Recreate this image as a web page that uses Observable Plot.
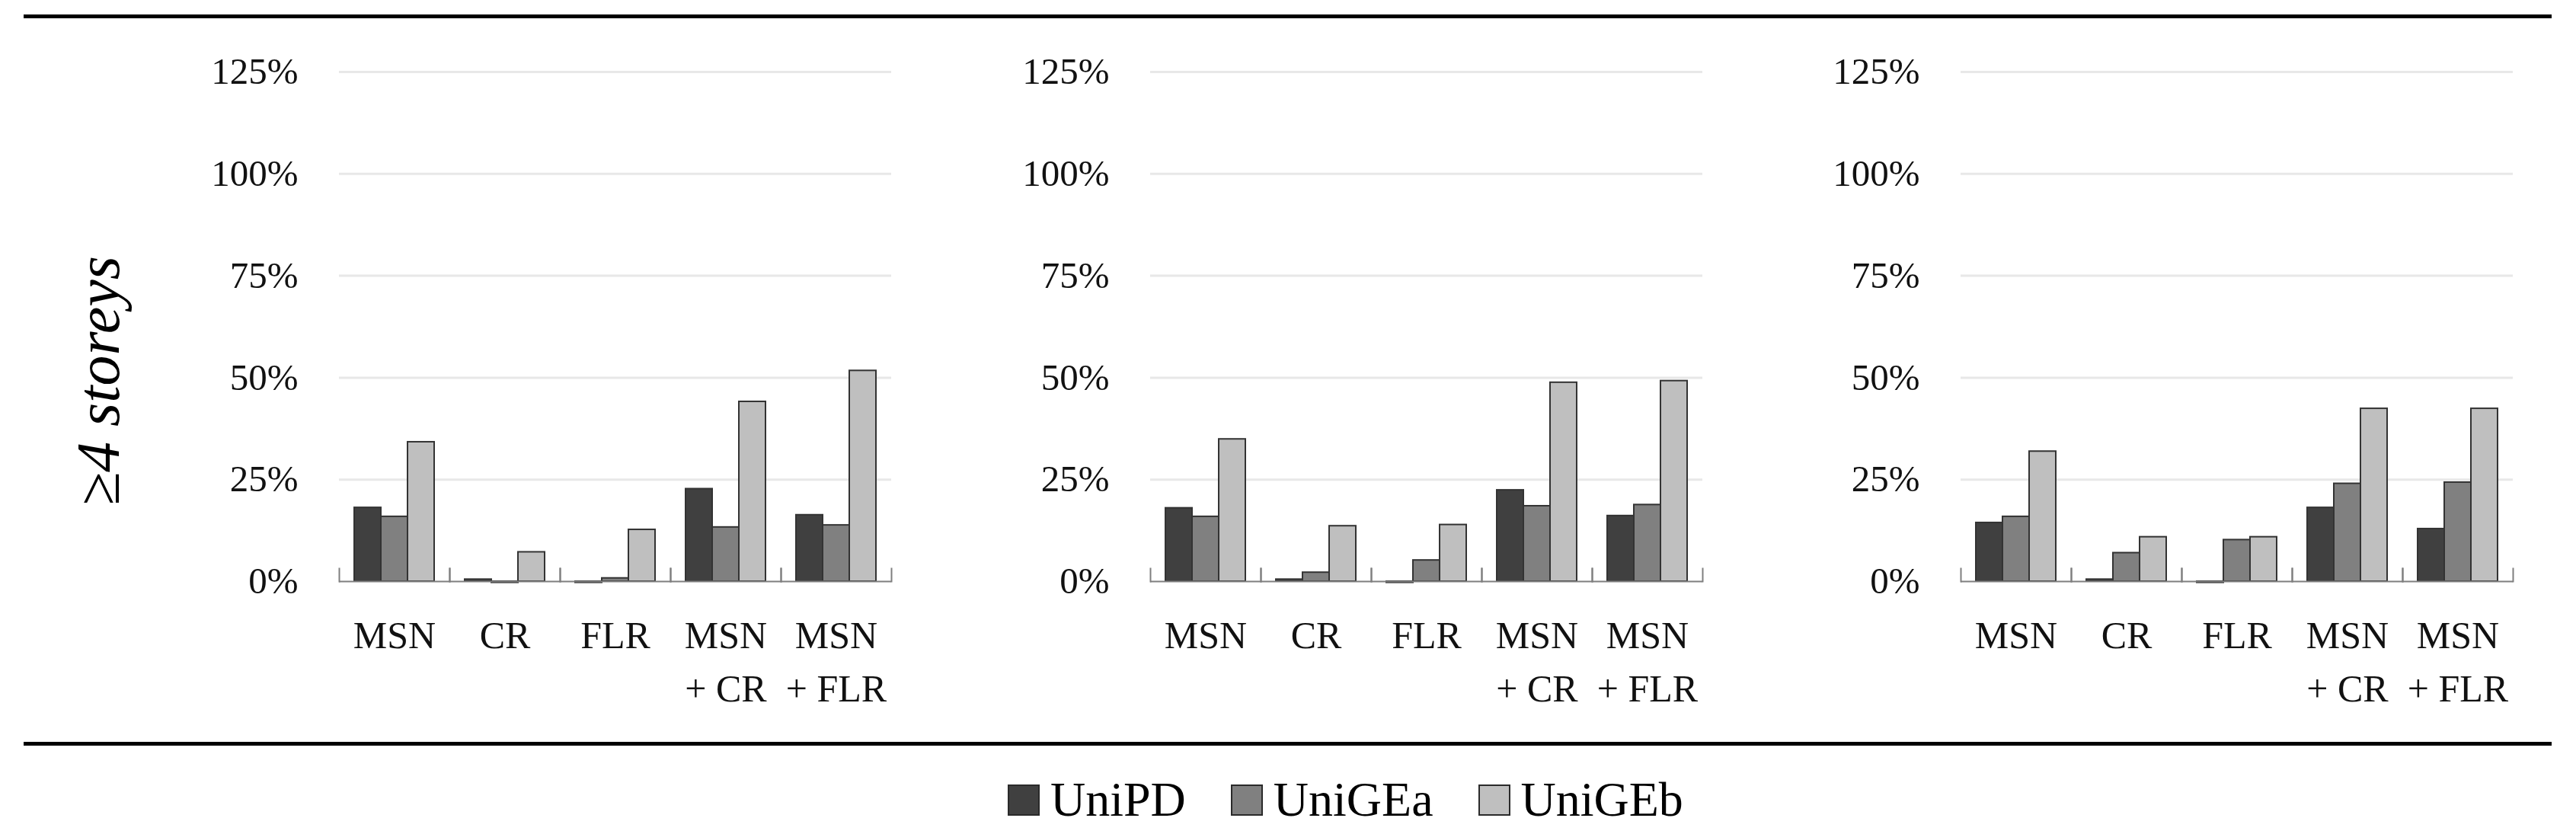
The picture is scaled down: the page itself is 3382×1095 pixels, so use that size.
<!DOCTYPE html>
<html><head><meta charset="utf-8">
<script src="https://cdn.jsdelivr.net/npm/d3@7"></script>
<script src="https://cdn.jsdelivr.net/npm/@observablehq/plot@0.6"></script>
<style>
body{margin:0;background:#fff}
#root{position:relative;width:3382px;height:1095px;background:#fff;overflow:hidden;font-family:"Liberation Serif",serif;color:#000}
.rule{position:absolute;left:31px;width:3319px;height:5px;background:#000}
.panel{position:absolute;top:40px}
#ylabel{position:absolute;left:129px;top:500px;transform:translate(-50%,-50%) rotate(-90deg);font-style:italic;font-size:80px;line-height:1;white-space:nowrap}
#legend{position:absolute;left:1323px;top:1050px;transform:translateY(-50%);display:flex;align-items:center;font-size:64px;line-height:1}
.item{display:flex;align-items:center;margin-right:59px}
.sw{width:38px;height:37px;border:2px solid #2a2a2a;margin-right:14px}
</style></head><body><div id="root"></div>
<script>
const categories = ["MSN", "CR", "FLR", "MSN + CR", "MSN + FLR"];
const categoryLabels = ["MSN", "CR", "FLR", "MSN\n+ CR", "MSN\n+ FLR"];
const series = ["UniPD", "UniGEa", "UniGEb"];
const seriesColors = ["#404040", "#808080", "#bfbfbf"];
const yTicks = [0, 25, 50, 75, 100, 125];
const yLabel = "≥4 storeys";

// values in percent, one array per series, in category order
const panel1UniPD  = [18.1, 0.5, -0.3, 22.7, 16.3];
const panel1UniGEa = [15.9, -0.3, 0.8, 13.3, 13.8];
const panel1UniGEb = [34.2, 7.2, 12.7, 44.1, 51.7];

const panel2UniPD  = [18.0, 0.5, -0.3, 22.4, 16.1];
const panel2UniGEa = [15.9, 2.2, 5.2, 18.5, 18.8];
const panel2UniGEb = [34.9, 13.6, 13.9, 48.8, 49.2];

const panel3UniPD  = [14.4, 0.5, -0.3, 18.1, 12.9];
const panel3UniGEa = [15.9, 7.0, 10.2, 24.0, 24.3];
const panel3UniGEb = [31.9, 10.9, 10.9, 42.4, 42.4];

const panels = [
  [panel1UniPD, panel1UniGEa, panel1UniGEb],
  [panel2UniPD, panel2UniGEa, panel2UniGEb],
  [panel3UniPD, panel3UniGEa, panel3UniGEb]
];
const panelLefts = [269, 1334, 2398];

const root = document.getElementById("root");

function addDiv(cls, styles) {
  const d = document.createElement("div");
  if (cls) d.className = cls;
  Object.assign(d.style, styles || {});
  root.appendChild(d);
  return d;
}
addDiv("rule", {top: "19px"});
addDiv("rule", {top: "974px"});

const yl = addDiv(null);
yl.id = "ylabel";
yl.textContent = yLabel;

const H = 900, MT = 54, MB = 177;
const innerH = H - MT - MB;

panels.forEach((vals, p) => {
  const rows = [];
  categories.forEach((c, i) => {
    series.forEach((s, j) => rows.push({category: c, series: s, value: vals[j][i]}));
  });
  const chart = Plot.plot({
    width: 917,
    height: H,
    marginLeft: 175,
    marginRight: 15,
    marginTop: MT,
    marginBottom: MB,
    style: {fontFamily: '"Liberation Serif", serif', fontSize: "49px", color: "#000", background: "transparent", overflow: "visible"},
    fx: {domain: categories, padding: 0, axis: null},
    x: {domain: series, paddingInner: 0, paddingOuter: 0.52, axis: null},
    y: {domain: [0, 125], axis: null},
    color: {domain: series, range: seriesColors},
    marks: [
      Plot.ruleY(yTicks.filter(d => d > 0), {stroke: "#e8e8e8", strokeWidth: 3}),
      Plot.axisY(yTicks, {tickSize: 0, tickPadding: 54, tickFormat: d => d + "%", fontSize: 49, fill: "#111", label: null}),
      Plot.barY(rows, {fx: "category", x: "series", y: "value", fill: "series", stroke: "#333", strokeWidth: 2, insetLeft: 0, insetRight: 0}),
      Plot.ruleY([0], {stroke: "#7f7f7f", strokeWidth: 2}),
      Plot.frame({anchor: "left", stroke: "#7f7f7f", strokeWidth: 2, insetTop: innerH - 17}),
      Plot.frame({anchor: "right", stroke: "#7f7f7f", strokeWidth: 2, insetTop: innerH - 17}),
      Plot.text(categories, {fx: d => d, text: d => categoryLabels[categories.indexOf(d)], frameAnchor: "bottom", lineAnchor: "top", dy: 38, lineHeight: 1.4, fontSize: 50, fill: "#111"})
    ]
  });
  chart.classList.add("panel");
  chart.style.left = panelLefts[p] + "px";
  root.appendChild(chart);
});

const lg = addDiv(null);
lg.id = "legend";
series.forEach((s, j) => {
  const it = document.createElement("div");
  it.className = "item";
  const sw = document.createElement("div");
  sw.className = "sw";
  sw.style.background = seriesColors[j];
  const t = document.createElement("span");
  t.textContent = s;
  it.appendChild(sw);
  it.appendChild(t);
  lg.appendChild(it);
});
</script></body></html>
